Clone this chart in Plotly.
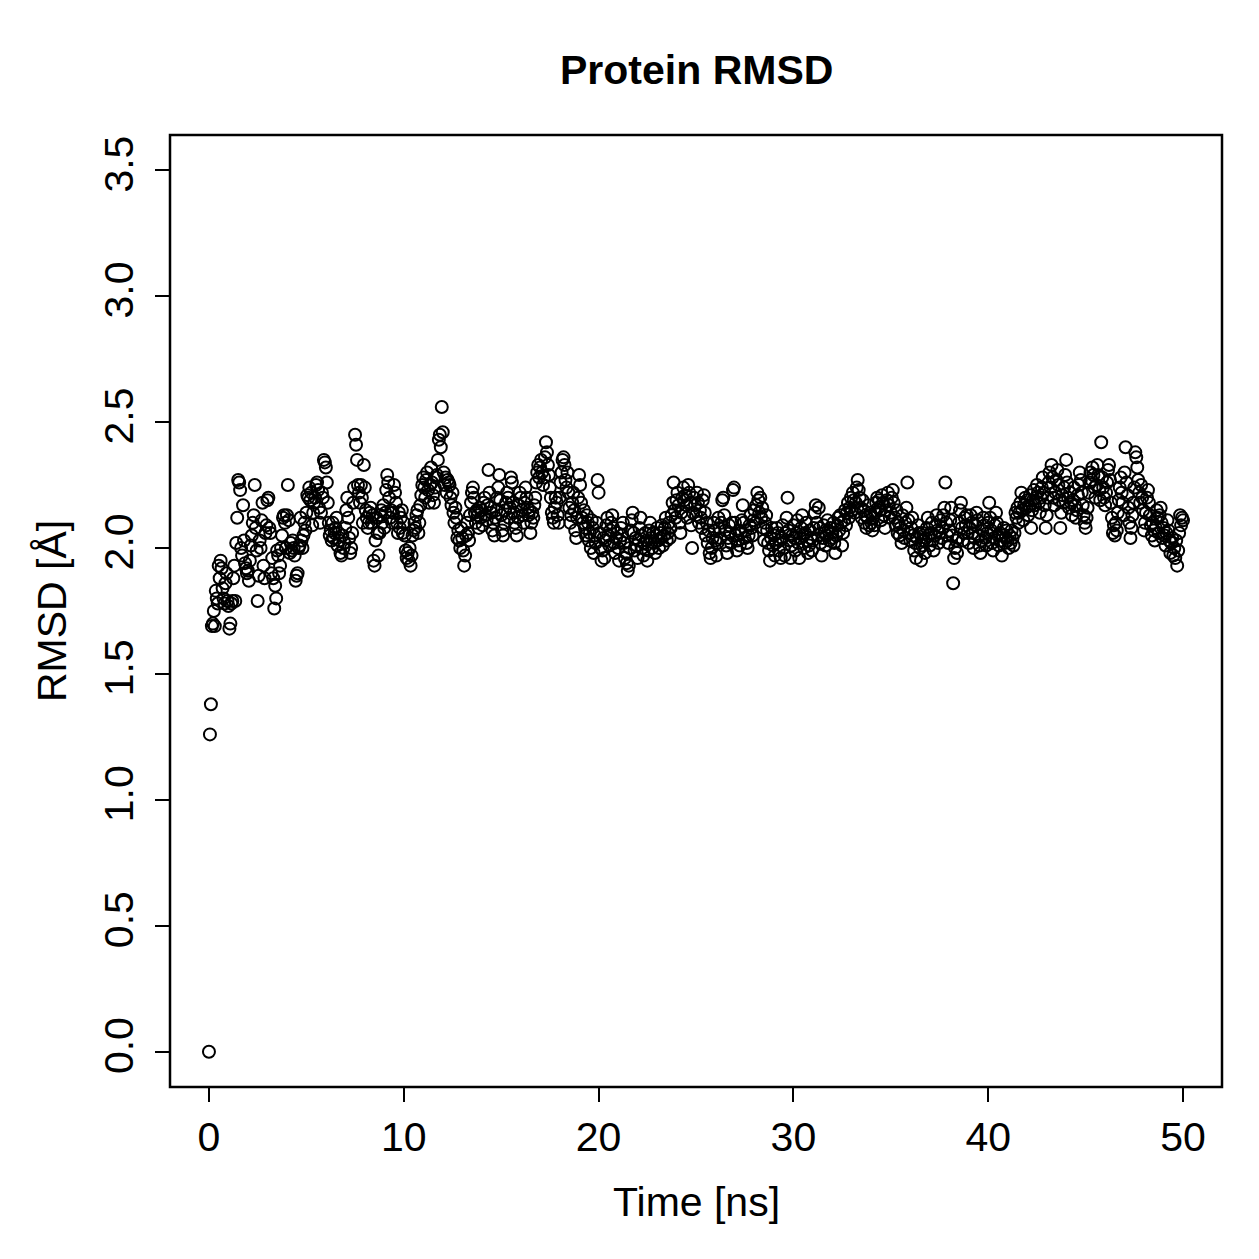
import numpy as np
import plotly.graph_objects as go

# RMSD values (Angstrom), one frame every 0.05 ns, 0..50 ns
rmsd_by_ns = [
    [0.00, 1.26, 1.38, 1.69, 1.70, 1.75, 1.69, 1.83, 1.80, 1.78, 1.93, 1.88, 1.95, 1.92, 1.84, 1.80, 1.78, 1.86, 1.90, 1.79],
    [1.77, 1.68, 1.70, 1.78, 1.79, 1.88, 1.93, 1.79, 2.02, 2.12, 2.27, 2.26, 2.23, 2.00, 1.97, 2.17, 2.03, 1.94, 1.92, 1.90],
    [1.91, 1.87, 1.95, 2.01, 2.05, 2.10, 2.13, 2.25, 2.08, 1.99, 1.79, 1.89, 2.03, 2.00, 2.11, 2.18, 1.93, 1.88, 2.06, 2.09],
    [2.19, 2.20, 2.08, 2.06, 1.90, 1.96, 1.88, 1.76, 1.85, 1.80, 1.99, 1.97, 1.90, 1.93, 2.00, 2.05, 2.12, 2.13, 2.10, 2.00],
    [2.13, 2.25, 2.11, 1.98, 2.02, 1.99, 2.03, 2.00, 1.97, 1.87, 1.89, 1.90, 2.00, 2.01, 2.12, 2.03, 2.00, 2.05, 2.10, 2.07],
    [2.14, 2.21, 2.20, 2.24, 2.19, 2.22, 2.09, 2.14, 2.18, 2.20, 2.25, 2.26, 2.23, 2.16, 2.10, 2.14, 2.22, 2.20, 2.35, 2.34],
    [2.32, 2.26, 2.18, 2.10, 2.05, 2.07, 2.03, 2.10, 2.04, 2.06, 2.08, 2.12, 2.01, 2.06, 2.03, 1.98, 1.97, 2.05, 2.00, 2.02],
    [2.08, 2.15, 2.20, 2.12, 2.04, 1.98, 2.00, 2.06, 2.18, 2.24, 2.45, 2.41, 2.35, 2.25, 2.22, 2.18, 2.25, 2.20, 2.10, 2.33],
    [2.24, 2.15, 2.12, 2.08, 2.10, 2.14, 2.16, 2.10, 2.13, 1.95, 1.93, 2.03, 2.12, 2.06, 1.97, 2.06, 2.13, 2.15, 2.10, 2.17],
    [2.08, 2.14, 2.23, 2.29, 2.26, 2.20, 2.12, 2.15, 2.10, 2.14, 2.25, 2.22, 2.18, 2.10, 2.06, 2.14, 2.08, 2.12, 2.15, 2.06],
    [2.10, 2.05, 1.99, 1.96, 1.98, 1.95, 2.00, 1.93, 1.97, 2.05, 2.07, 2.10, 2.08, 2.13, 2.15, 2.06, 2.10, 2.17, 2.21, 2.25],
    [2.28, 2.24, 2.20, 2.27, 2.30, 2.23, 2.18, 2.25, 2.32, 2.26, 2.21, 2.18, 2.24, 2.28, 2.29, 2.35, 2.43, 2.45, 2.40, 2.56],
    [2.46, 2.30, 2.25, 2.28, 2.22, 2.27, 2.26, 2.25, 2.20, 2.17, 2.22, 2.14, 2.10, 2.16, 2.12, 2.04, 2.07, 2.03, 2.00, 2.08],
    [2.04, 1.99, 1.93, 1.97, 2.05, 2.10, 2.06, 2.03, 2.13, 2.18, 2.22, 2.24, 2.20, 2.14, 2.10, 2.15, 2.13, 2.08, 2.16, 2.12],
    [2.15, 2.09, 2.18, 2.20, 2.13, 2.11, 2.17, 2.31, 2.22, 2.16, 2.14, 2.07, 2.10, 2.05, 2.12, 2.15, 2.20, 2.24, 2.29, 2.19],
    [2.13, 2.07, 2.05, 2.10, 2.15, 2.18, 2.22, 2.20, 2.12, 2.16, 2.28, 2.26, 2.18, 2.14, 2.10, 2.08, 2.05, 2.12, 2.17, 2.22],
    [2.20, 2.15, 2.13, 2.10, 2.18, 2.24, 2.20, 2.16, 2.13, 2.15, 2.06, 2.10, 2.14, 2.12, 2.17, 2.20, 2.26, 2.30, 2.33, 2.28],
    [2.32, 2.35, 2.30, 2.25, 2.28, 2.36, 2.42, 2.38, 2.33, 2.29, 2.24, 2.20, 2.14, 2.12, 2.10, 2.16, 2.20, 2.18, 2.13, 2.10],
    [2.20, 2.26, 2.30, 2.35, 2.36, 2.33, 2.27, 2.24, 2.30, 2.22, 2.16, 2.10, 2.13, 2.18, 2.22, 2.15, 2.07, 2.04, 2.12, 2.20],
    [2.29, 2.25, 2.18, 2.12, 2.10, 2.15, 2.08, 2.05, 2.13, 2.10, 2.03, 2.06, 2.00, 2.11, 2.08, 1.98, 2.05, 2.02, 2.10, 2.27],
    [2.22, 2.06, 2.00, 1.95, 1.99, 2.04, 1.96, 2.03, 2.09, 2.12, 2.05, 2.01, 2.07, 2.10, 2.13, 2.08, 2.02, 1.98, 2.04, 2.06],
    [2.00, 1.95, 2.03, 2.08, 2.05, 2.10, 2.02, 1.96, 1.98, 1.94, 1.91, 1.93, 2.00, 2.07, 2.11, 2.14, 2.06, 1.99, 2.04, 2.01],
    [1.96, 2.03, 2.08, 2.12, 2.05, 2.00, 1.97, 2.02, 2.06, 2.03, 1.95, 1.99, 2.07, 2.10, 2.04, 2.00, 2.06, 2.02, 1.98, 2.05],
    [2.08, 2.03, 2.00, 2.06, 2.04, 2.09, 2.01, 2.05, 2.08, 2.12, 2.03, 2.06, 2.10, 2.04, 2.08, 2.13, 2.18, 2.26, 2.15, 2.12],
    [2.19, 2.22, 2.17, 2.10, 2.06, 2.14, 2.20, 2.24, 2.19, 2.21, 2.17, 2.12, 2.25, 2.22, 2.18, 2.09, 2.00, 2.14, 2.20, 2.17],
    [2.13, 2.22, 2.18, 2.10, 2.15, 2.12, 2.08, 2.19, 2.21, 2.14, 2.05, 2.10, 2.02, 2.07, 1.98, 1.96, 2.00, 2.04, 2.10, 2.07],
    [2.03, 1.97, 2.02, 2.12, 2.08, 2.04, 2.10, 2.19, 2.20, 2.13, 2.07, 2.01, 1.98, 2.04, 2.09, 2.06, 2.02, 2.10, 2.23, 2.24],
    [2.10, 2.05, 1.99, 2.03, 2.07, 2.01, 2.06, 2.11, 2.17, 2.10, 2.04, 2.07, 2.02, 2.00, 2.05, 2.09, 2.13, 2.08, 2.05, 2.11],
    [2.15, 2.10, 2.17, 2.22, 2.19, 2.14, 2.20, 2.12, 2.16, 2.08, 2.03, 2.10, 2.13, 2.07, 2.02, 1.99, 1.95, 2.04, 2.08, 2.01],
    [2.05, 1.97, 2.02, 2.08, 2.06, 1.99, 2.03, 1.96, 2.04, 2.09, 2.00, 1.97, 2.06, 2.12, 2.20, 2.07, 2.03, 1.96, 2.01, 2.05],
    [2.09, 2.04, 1.99, 2.06, 2.11, 2.02, 1.96, 2.04, 2.08, 2.13, 2.05, 2.00, 2.06, 2.10, 2.03, 1.98, 2.01, 2.07, 2.04, 1.99],
    [2.03, 2.08, 2.14, 2.17, 2.10, 2.05, 2.16, 2.08, 2.02, 1.97, 2.04, 2.09, 2.06, 2.01, 2.05, 2.11, 2.07, 2.03, 2.08, 2.04],
    [2.06, 2.10, 2.02, 1.98, 2.05, 2.09, 2.12, 2.07, 2.13, 2.10, 2.01, 2.06, 2.11, 2.15, 2.09, 2.14, 2.18, 2.12, 2.16, 2.20],
    [2.15, 2.22, 2.19, 2.14, 2.18, 2.24, 2.27, 2.23, 2.20, 2.16, 2.12, 2.19, 2.15, 2.10, 2.13, 2.08, 2.12, 2.17, 2.09, 2.14],
    [2.10, 2.07, 2.12, 2.09, 2.14, 2.18, 2.20, 2.16, 2.19, 2.15, 2.11, 2.21, 2.18, 2.13, 2.08, 2.15, 2.19, 2.22, 2.17, 2.12],
    [2.14, 2.20, 2.23, 2.18, 2.12, 2.09, 2.15, 2.06, 2.10, 2.05, 2.08, 2.02, 2.13, 2.07, 2.04, 2.10, 2.16, 2.26, 2.11, 2.06],
    [2.03, 2.08, 2.12, 2.05, 1.99, 2.02, 1.96, 2.04, 2.09, 2.06, 2.00, 1.95, 2.01, 2.06, 2.03, 1.98, 2.04, 2.08, 2.12, 2.05],
    [2.01, 2.06, 2.10, 2.03, 1.99, 2.05, 2.09, 2.13, 2.07, 2.02, 2.06, 2.11, 2.04, 2.08, 2.13, 2.16, 2.26, 2.10, 2.05, 2.02],
    [2.07, 2.11, 2.16, 2.05, 1.86, 1.96, 2.00, 2.03, 1.98, 2.04, 2.10, 2.15, 2.18, 2.08, 2.03, 2.06, 2.12, 2.09, 2.13, 2.06],
    [2.02, 2.08, 2.13, 2.10, 2.06, 2.00, 2.04, 2.09, 2.14, 2.11, 2.05, 2.01, 1.98, 2.03, 2.07, 2.12, 2.09, 2.04, 2.01, 2.06],
    [2.10, 2.18, 2.12, 2.07, 2.02, 1.99, 2.04, 2.09, 2.14, 2.10, 2.05, 2.01, 2.06, 2.03, 1.97, 2.05, 2.08, 2.02, 2.04, 2.07],
    [2.03, 2.00, 2.05, 2.02, 2.07, 2.04, 2.01, 2.06, 2.14, 2.12, 2.16, 2.10, 2.14, 2.18, 2.22, 2.15, 2.11, 2.17, 2.20, 2.16],
    [2.19, 2.13, 2.17, 2.21, 2.08, 2.15, 2.19, 2.23, 2.17, 2.20, 2.25, 2.22, 2.18, 2.14, 2.20, 2.24, 2.28, 2.22, 2.17, 2.08],
    [2.13, 2.20, 2.26, 2.30, 2.24, 2.33, 2.28, 2.20, 2.17, 2.22, 2.27, 2.31, 2.25, 2.19, 2.08, 2.14, 2.21, 2.18, 2.24, 2.29],
    [2.35, 2.26, 2.20, 2.16, 2.22, 2.18, 2.13, 2.19, 2.24, 2.17, 2.12, 2.15, 2.21, 2.25, 2.30, 2.27, 2.22, 2.17, 2.13, 2.10],
    [2.08, 2.12, 2.16, 2.22, 2.26, 2.30, 2.27, 2.32, 2.29, 2.24, 2.20, 2.25, 2.33, 2.29, 2.23, 2.19, 2.42, 2.28, 2.24, 2.20],
    [2.17, 2.22, 2.26, 2.31, 2.33, 2.27, 2.18, 2.12, 2.06, 2.09, 2.05, 2.10, 2.07, 2.14, 2.19, 2.24, 2.28, 2.22, 2.18, 2.13],
    [2.30, 2.40, 2.26, 2.21, 2.16, 2.10, 2.04, 2.08, 2.13, 2.18, 2.24, 2.38, 2.36, 2.32, 2.27, 2.22, 2.18, 2.25, 2.20, 2.15],
    [2.07, 2.10, 2.14, 2.20, 2.23, 2.18, 2.13, 2.09, 2.05, 2.10, 2.07, 2.03, 2.08, 2.15, 2.12, 2.06, 2.13, 2.16, 2.10, 2.04],
    [2.08, 2.05, 2.01, 2.06, 2.11, 2.07, 2.03, 1.98, 2.02, 2.04, 1.97, 2.00, 1.96, 2.03, 1.93, 1.99, 2.06, 2.13, 2.09, 2.12],
    [2.11],
]
frame_step_ns = 0.05

x_ticks = [0, 10, 20, 30, 40, 50]
y_ticks = [0.0, 0.5, 1.0, 1.5, 2.0, 2.5, 3.0, 3.5]
y_tick_labels = ["0.0", "0.5", "1.0", "1.5", "2.0", "2.5", "3.0", "3.5"]

rmsd = [v for row in rmsd_by_ns for v in row]
time_ns = [round(i * frame_step_ns, 2) for i in range(len(rmsd))]

FONT = "Liberation Sans, Arial, Helvetica, sans-serif"
FS = 41

fig = go.Figure()
fig.add_trace(go.Scatter(
    x=time_ns, y=rmsd, mode="markers",
    marker=dict(symbol="circle-open", size=12, color="black",
                line=dict(color="black", width=2)),
    showlegend=False, hoverinfo="x+y",
))

W = H = 1259
L, R, T, B = 170, 37, 135, 172

fig.update_layout(
    width=W, height=H,
    margin=dict(l=L, r=R, t=T, b=B, pad=0),
    paper_bgcolor="white", plot_bgcolor="white",
    font=dict(family=FONT, size=FS, color="black"),
    xaxis=dict(range=[-2, 52], tickvals=x_ticks, ticktext=[str(t) for t in x_ticks],
               ticks="outside", ticklen=14, tickwidth=2, tickcolor="black",
               showgrid=False, zeroline=False, showline=False,
               tickfont=dict(family=FONT, size=FS, color="black")),
    yaxis=dict(range=[-0.14, 3.64], tickvals=y_ticks, ticktext=y_tick_labels,
               ticks="outside", ticklen=14, tickwidth=2, tickcolor="black",
               tickangle=-90, ticklabelstandoff=6,
               showgrid=False, zeroline=False, showline=False,
               tickfont=dict(family=FONT, size=FS, color="black")),
    shapes=[dict(type="rect", xref="paper", yref="paper", x0=0, y0=0, x1=1, y1=1,
                 line=dict(color="black", width=2.5), fillcolor="rgba(0,0,0,0)")],
    annotations=[
        dict(text="<b>Protein RMSD</b>", xref="paper", yref="paper",
             x=0.5, y=(1087 - 70) / 952, xanchor="center", yanchor="middle",
             showarrow=False, font=dict(family=FONT, size=FS, color="black")),
        dict(text="Time [ns]", xref="paper", yref="paper",
             x=0.5, y=(1087 - 1202) / 952, xanchor="center", yanchor="middle",
             showarrow=False, font=dict(family=FONT, size=FS, color="black")),
        dict(text="RMSD [Å]", xref="paper", yref="paper",
             x=(52 - 170) / 1052, y=0.5, xanchor="center", yanchor="middle",
             textangle=-90, showarrow=False,
             font=dict(family=FONT, size=FS, color="black")),
    ],
)

fig.write_html("out.html")
